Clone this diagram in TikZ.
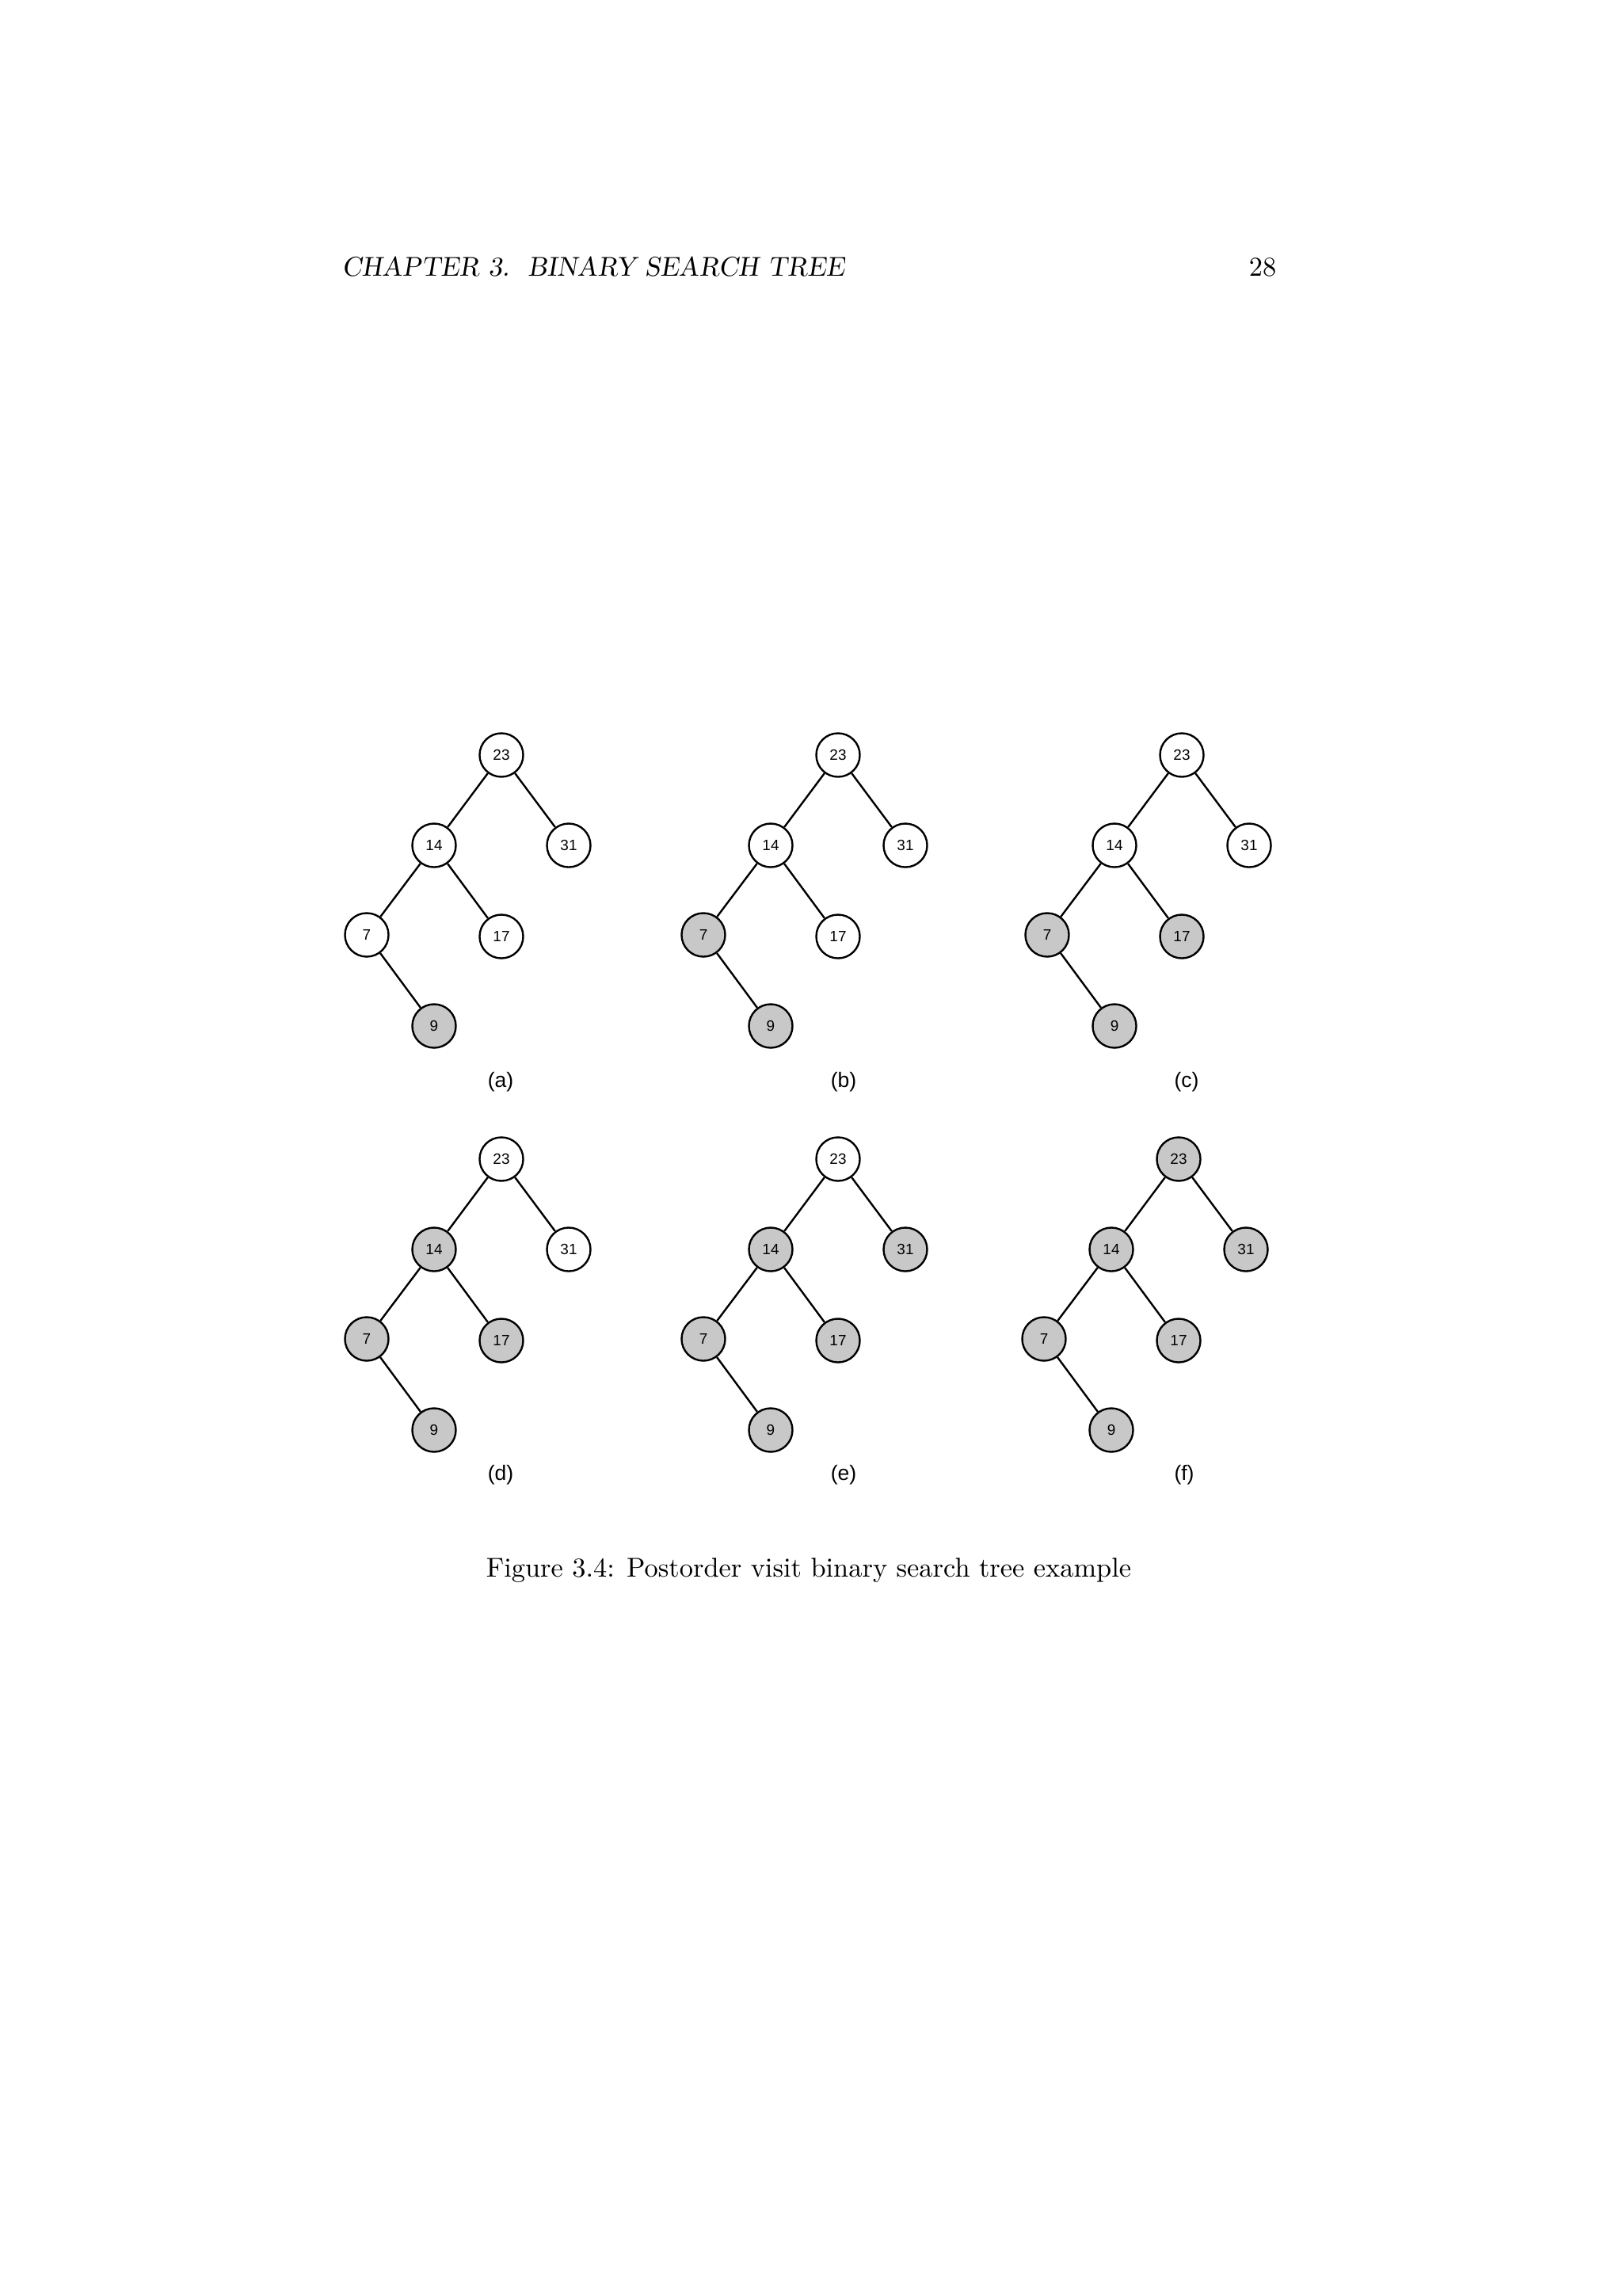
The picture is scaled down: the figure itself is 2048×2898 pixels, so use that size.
\documentclass[tikz,border=0pt]{standalone}
\usepackage{fontspec}
\newfontfamily\arialfont{Liberation Sans}
\definecolor{visited}{RGB}{200,200,200}
\tikzset{
  x=0.290662pt, y=-0.290662pt,
  nd/.style={circle, draw=black, line width=0.7pt, minimum size=16pt, inner sep=0pt,
             font=\fontsize{5.5}{6}\arialfont},
  seen/.style={fill=visited},
  unseen/.style={fill=white},
  edge/.style={line width=0.7pt, draw=black},
  sublabel/.style={inner sep=0pt, font=\fontsize{7.7}{9}\arialfont},
  pagetext/.style={inner sep=0pt, font=\fontsize{10}{12}\selectfont}
}
\newcommand\bsttree[8]{%
  \begin{scope}[shift={#2}]
    \node[nd,#3] (#1r) at (0,0) {23};
    \node[nd,#4] (#1a) at (-85,114) {14};
    \node[nd,#5] (#1b) at (85,114) {31};
    \node[nd,#6] (#1c) at (-170,227) {7};
    \node[nd,#7] (#1d) at (0,229) {17};
    \node[nd,#8] (#1e) at (-85,342) {9};
    \draw[edge] (#1r) -- (#1a);
    \draw[edge] (#1r) -- (#1b);
    \draw[edge] (#1a) -- (#1c);
    \draw[edge] (#1a) -- (#1d);
    \draw[edge] (#1c) -- (#1e);
  \end{scope}}
\begin{document}
\begin{tikzpicture}
  \fill[white] (0,0) rectangle (2048,2898);
  \useasboundingbox (0,0) rectangle (2048,2898);
  % running head
  \node[pagetext, anchor=base west] (head) at (431,348) {\slshape CHAPTER 3.\ \ BINARY SEARCH TREE};
  \node[pagetext, anchor=base east] (pnum) at (1612,348) {28};
  % trees
  \bsttree{a}{(633,953)}{unseen}{unseen}{unseen}{unseen}{unseen}{seen}
  \bsttree{b}{(1058,953)}{unseen}{unseen}{unseen}{seen}{unseen}{seen}
  \bsttree{c}{(1492,953)}{unseen}{unseen}{unseen}{seen}{seen}{seen}
  \bsttree{d}{(633,1463)}{unseen}{seen}{unseen}{seen}{seen}{seen}
  \bsttree{e}{(1058,1463)}{unseen}{seen}{seen}{seen}{seen}{seen}
  \bsttree{f}{(1488,1463)}{seen}{seen}{seen}{seen}{seen}{seen}
  % sub-captions
  \node[sublabel] (la) at (632,1366) {(a)};
  \node[sublabel] (lb) at (1065,1366) {(b)};
  \node[sublabel] (lc) at (1498,1366) {(c)};
  \node[sublabel] (ld) at (632,1862) {(d)};
  \node[sublabel] (le) at (1065,1862) {(e)};
  \node[sublabel] (lf) at (1495,1862) {(f)};
  % caption
  \node[pagetext, anchor=base] (cap) at (1021,1990) {Figure 3.4: Postorder visit binary search tree example};
\end{tikzpicture}
\end{document}
